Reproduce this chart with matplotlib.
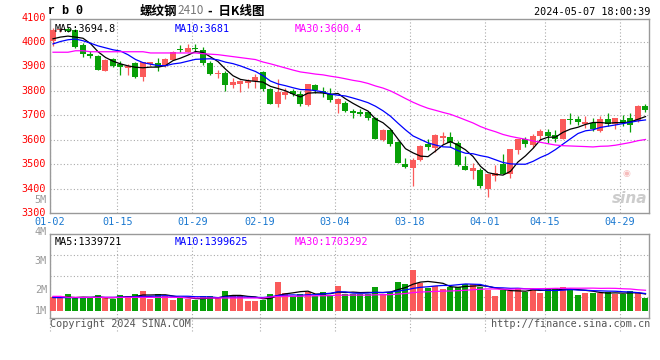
import numpy as np
import pandas as pd
import matplotlib
matplotlib.use("Agg")
import matplotlib.pyplot as plt
from matplotlib import transforms

# ---- data (rb2410 daily K, 2024-01-02 .. 2024-05-07) ----
holidays = ["2024-02-09", "2024-02-12", "2024-02-13", "2024-02-14", "2024-02-15",
            "2024-02-16", "2024-04-04", "2024-04-05", "2024-05-01", "2024-05-02",
            "2024-05-03"]
days = pd.bdate_range("2024-01-02", "2024-05-07")
days = days[~days.isin(pd.to_datetime(holidays))]
dates = [d.strftime("%m-%d") for d in days]

opens = [4005, 4048, 4053, 4050, 3989, 3952, 3944, 3880, 3931, 3908,
         3895, 3914, 3856, 3911, 3914, 3901, 3928, 3973, 3959, 3975,
         3968, 3912, 3868, 3871, 3822, 3826, 3833, 3839, 3878, 3806,
         3748, 3781, 3800, 3789, 3742, 3822, 3801, 3785, 3747, 3750,
         3715, 3711, 3713, 3690, 3597, 3638, 3591, 3500, 3486, 3516,
         3584, 3568, 3609, 3612, 3588, 3491, 3470, 3475, 3398, 3453,
         3500, 3461, 3558, 3602, 3578, 3615, 3633, 3618, 3602, 3686,
         3683, 3665, 3670, 3637, 3683, 3665, 3681, 3690, 3676, 3736]
highs = [4058, 4058, 4062, 4054, 3996, 3962, 3948, 3930, 3935, 3921,
         3908, 3917, 3917, 3920, 3935, 3935, 3962, 3986, 3990, 3990,
         3980, 3921, 3887, 3880, 3853, 3846, 3849, 3867, 3883, 3812,
         3850, 3810, 3806, 3799, 3830, 3830, 3816, 3810, 3772, 3758,
         3724, 3724, 3717, 3693, 3642, 3645, 3595, 3527, 3524, 3577,
         3604, 3622, 3631, 3631, 3595, 3535, 3504, 3486, 3461, 3495,
         3540, 3561, 3604, 3611, 3625, 3642, 3645, 3640, 3686, 3708,
         3697, 3697, 3687, 3699, 3708, 3690, 3701, 3710, 3742, 3747]
lows = [3984, 4042, 4040, 3976, 3937, 3935, 3884, 3880, 3897, 3863,
        3863, 3853, 3840, 3900, 3880, 3898, 3925, 3959, 3958, 3958,
        3905, 3863, 3853, 3799, 3812, 3795, 3812, 3812, 3801, 3747,
        3733, 3765, 3778, 3737, 3737, 3792, 3774, 3755, 3708, 3713,
        3690, 3697, 3679, 3601, 3595, 3574, 3504, 3486, 3411, 3514,
        3557, 3550, 3581, 3570, 3493, 3476, 3438, 3402, 3366, 3432,
        3459, 3445, 3540, 3570, 3567, 3601, 3588, 3591, 3602, 3665,
        3660, 3649, 3635, 3631, 3656, 3642, 3656, 3633, 3674, 3714]
closes = [4051, 4050, 4046, 3978, 3951, 3942, 3884, 3928, 3901, 3897,
          3901, 3856, 3917, 3914, 3897, 3932, 3958, 3968, 3976, 3970,
          3914, 3867, 3871, 3822, 3835, 3839, 3842, 3856, 3806, 3748,
          3795, 3796, 3788, 3748, 3826, 3804, 3790, 3761, 3765, 3717,
          3711, 3707, 3687, 3602, 3640, 3581, 3504, 3489, 3517, 3573,
          3570, 3619, 3613, 3588, 3497, 3476, 3483, 3411, 3459, 3463,
          3459, 3561, 3602, 3584, 3615, 3636, 3615, 3602, 3683, 3681,
          3674, 3672, 3642, 3683, 3665, 3687, 3670, 3659, 3737, 3720]
# volume, millions of lots
volumes = [1.16, 1.02, 1.37, 1.02, 1.02, 1.02, 1.29, 1.02, 0.97, 1.29,
           1.21, 1.37, 1.61, 0.97, 1.37, 1.21, 0.89, 1.02, 0.97, 0.89,
           1.21, 1.21, 1.02, 1.64, 1.21, 1.21, 0.81, 0.81, 0.89, 1.37,
           2.37, 1.48, 1.21, 1.37, 1.56, 1.21, 1.56, 1.29, 2.02, 1.37,
           1.37, 1.37, 1.37, 1.96, 1.37, 1.56, 2.37, 2.18, 3.31, 2.23,
           1.83, 2.02, 1.77, 1.96, 1.96, 2.18, 2.18, 1.96, 1.69, 1.24,
           1.69, 1.64, 1.85, 1.56, 1.77, 1.48, 1.77, 1.83, 1.96, 1.77,
           1.29, 1.48, 1.48, 1.42, 1.56, 1.37, 1.37, 1.61, 1.42, 1.08]

# moving averages before a full window exists (they use December data)
ma5_head = [4013, 4020, 4024, 4020]
ma10_head = [3992, 4002, 4009, 4012, 4005, 3995, 3984, 3976, 3968]
ma30_head = [3958, 3958, 3958, 3964, 3964, 3960, 3960, 3960, 3960, 3960,
             3960, 3960, 3960, 3955, 3955, 3955, 3955, 3955, 3955, 3955,
             3952, 3950, 3948, 3944, 3940, 3936, 3932, 3928, 3918]
vma5_head = [1.12, 1.10, 1.12, 1.08]
vma10_head = [1.08, 1.08, 1.08, 1.08, 1.08, 1.10, 1.10, 1.10, 1.10]
vma30_head = [1.18, 1.18, 1.10, 1.10, 1.10, 1.10, 1.10, 1.10, 1.10, 1.10,
              1.10, 1.10, 1.10, 1.10, 1.10, 1.10, 1.10, 1.10, 1.05, 1.05,
              1.05, 1.05, 1.05, 1.05, 1.05, 1.05, 1.05, 1.05, 1.05]

tick_labels = ["01-02", "01-15", "01-29", "02-19", "03-04", "03-18",
               "04-01", "04-15", "04-29"]
price_ticks = [3300, 3400, 3500, 3600, 3700, 3800, 3900, 4000, 4100]
vol_labels = ["5M", "4M", "3M", "2M", "1M"]

price_legend = ["MA5:3694.8", "MA10:3681", "MA30:3600.4"]
vol_legend = ["MA5:1339721", "MA10:1399625", "MA30:1703292"]

RED, GREEN = "#fa5a5a", "#08a008"
MA_COL = ["#000000", "#0000ff", "#ff00ff"]
GRID = dict(color="#aaaaaa", lw=0.8, ls=(0, (1, 2)))
MONO = "DejaVu Sans Mono"
W, H = 660, 360


def with_head(values, n, head):
    s = pd.Series(values, dtype=float).rolling(n).mean()
    s.iloc[:len(head)] = head
    return s.values


def px_axes(fig, l, t, r, b):
    return fig.add_axes([l / W, 1 - b / H, (r - l) / W, (b - t) / H])


def main():
    O, Hh, L, C = map(np.array, (opens, highs, lows, closes))
    V = np.array(volumes)
    x = np.arange(len(C))
    col = np.where(C >= O, RED, GREEN)
    tick_x = [dates.index(t) - 0.4 for t in tick_labels]

    fig = plt.figure(figsize=(W / 100, H / 100), dpi=100)
    ax = px_axes(fig, 50, 19, 649, 213)
    axv = px_axes(fig, 50, 234, 649, 318)

    # ---- price panel
    ax.vlines(x, L, Hh, colors=col, lw=0.9, zorder=3)
    body = np.maximum(np.abs(C - O), 5)
    ax.bar(x, body, bottom=np.minimum(O, C), width=0.8, color=col, lw=0, zorder=3)
    mas = [with_head(C, 5, ma5_head), with_head(C, 10, ma10_head),
           with_head(C, 30, ma30_head)]
    for m, c in zip(mas, MA_COL):
        ax.plot(x, m, color=c, lw=0.9, zorder=4)
    ax.set_xlim(-0.4, 79.47)
    ax.set_ylim(3300, 4094)
    ax.set_yticks(price_ticks[1:-1])
    ax.set_xticks(tick_x)
    ax.grid(True, **GRID)
    ax.tick_params(length=0, labelleft=False, labelbottom=False)
    tr = transforms.blended_transform_factory(ax.transAxes, ax.transData)
    for p in price_ticks:
        ax.text(-0.007, p, str(p), transform=tr, ha="right", va="center",
                color="red", fontsize=7.3, family=MONO, clip_on=False)
    tr = transforms.blended_transform_factory(ax.transData, ax.transAxes)
    for t, xx in zip(tick_labels, tick_x):
        ax.text(xx, -0.045, t, transform=tr, ha="center", va="center",
                color="#1a78d0", fontsize=7.3, family=MONO, clip_on=False)
    for s, c, xp in zip(price_legend, MA_COL, [55, 175, 295]):
        ax.text((xp - 50) / 599, 0.975, s, transform=ax.transAxes, ha="left",
                va="top", color=c, fontsize=7.3, family=MONO)
    # sina watermark
    ax.text(0.997, 0.035, "sina", transform=ax.transAxes, ha="right", va="bottom",
            color="#cccccc", fontsize=11, style="italic", weight="bold")
    ax.text(0.962, 0.205, "\u25c9", transform=ax.transAxes, ha="center",
            va="center", color="#f6bcbc", fontsize=6.5)

    # ---- volume panel
    axv.bar(x, V, width=0.8, color=col, lw=0, zorder=3)
    vmas = [with_head(V, 5, vma5_head), with_head(V, 10, vma10_head),
            with_head(V, 30, vma30_head)]
    for m, c in zip(vmas, MA_COL):
        axv.plot(x, m, color=c, lw=0.9, zorder=4)
    axv.set_xlim(-0.4, 79.47)
    axv.set_ylim(-0.565, 6.21)
    axv.set_xticks(tick_x)
    axv.set_yticks([])
    axv.xaxis.grid(True, **GRID)
    for f in (0.25, 0.5, 0.75):
        axv.plot([0, 1], [f, f], transform=axv.transAxes, zorder=0, **GRID)
    axv.tick_params(length=0, labelleft=False, labelbottom=False)
    tr = transforms.blended_transform_factory(axv.transData, axv.transAxes)
    axv.vlines(tick_x, -0.15, 0, transform=tr, clip_on=False, **GRID)
    for s, c, xp in zip(vol_legend, MA_COL, [55, 175, 295]):
        axv.text((xp - 50) / 599, 0.965, s, transform=axv.transAxes, ha="left",
                 va="top", color=c, fontsize=7.3, family=MONO)

    for a in (ax, axv):
        for sp in a.spines.values():
            sp.set_color("#999999")
            sp.set_linewidth(1)

    for s, yp in zip(vol_labels, [200, 232, 261, 290, 311]):
        fig.text(47 / W, 1 - yp / H, s, ha="right", va="center", color="#999999",
                 fontsize=7.3, family=MONO)

    # ---- header and footer
    fig.text(48 / W, 1 - 11 / H, "r b 0", ha="left", va="center",
             fontsize=8.5, weight="bold", family="Liberation Mono")
    cjk = ["Noto Sans CJK SC", "DejaVu Sans"]
    fig.text(140 / W, 1 - 11 / H, "螺纹钢", ha="left", va="center", fontsize=9,
             weight="bold", family=cjk)
    fig.text(177 / W, 1 - 11 / H, "2410", ha="left", va="center", fontsize=8.5,
             color="#777777", family=cjk)
    fig.text(208 / W, 1 - 11 / H, "-  日K线图", ha="left", va="center",
             fontsize=9, weight="bold", family=cjk)
    fig.text(650 / W, 1 - 12 / H, "2024-05-07 18:00:39", ha="right", va="center",
             fontsize=7.3, family=MONO)
    fig.text(50 / W, 1 - 324 / H, "Copyright 2024 SINA.COM", ha="left",
             va="center", color="#555555", fontsize=7.3, family=MONO)
    fig.text(650 / W, 1 - 324 / H, "http://finance.sina.com.cn", ha="right",
             va="center", color="#555555", fontsize=7.3, family=MONO)

    fig.savefig("out.png", dpi=100)
    plt.close(fig)


if __name__ == "__main__":
    main()
